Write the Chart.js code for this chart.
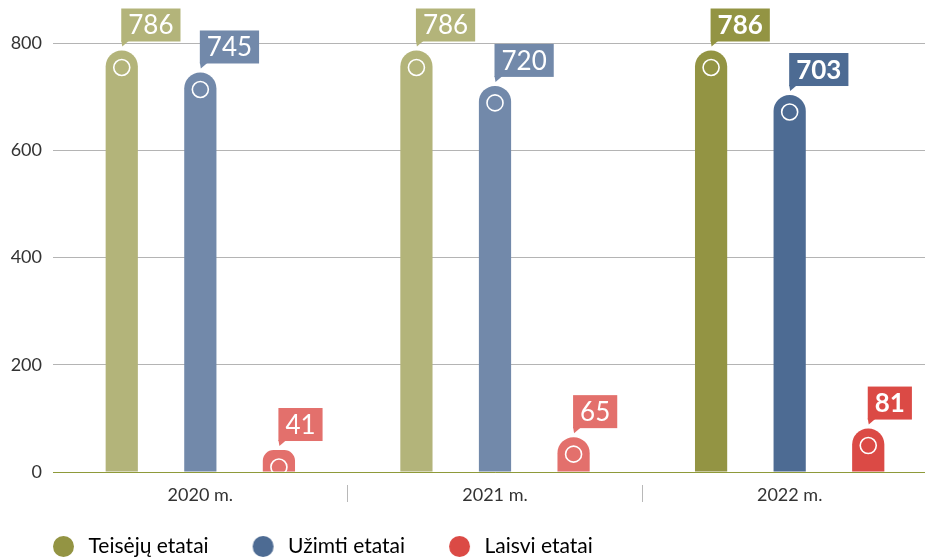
<!DOCTYPE html>
<html>
<head>
<meta charset="utf-8">
<script src="https://cdn.jsdelivr.net/npm/chart.js@4/dist/chart.umd.min.js"></script>
<style>
  html, body { margin: 0; padding: 0; overflow: hidden; background: #fff; }
  #wrap { width: 937px; height: 567px; }
</style>
</head>
<body>
<div id="wrap"><canvas id="chart"></canvas></div>
<script>
const categories = ['2020 m.', '2021 m.', '2022 m.'];
const seriesNames = ['Teisėjų etatai', 'Užimti etatai', 'Laisvi etatai'];
const teiseju = [786, 786, 786];
const uzimti = [745, 720, 703];
const laisvi = [41, 65, 81];
const yTicks = [0, 200, 400, 600, 800];

// faded colour for earlier years, full colour for the last one
const fullColors = ['#939443', '#4d6b93', '#db4a45'];
const fadedColors = ['#b3b47a', '#7289aa', '#e3706c'];

const FONT = 'Lato, "Open Sans", sans-serif';

function barColors(i) {
    return categories.map((c, j) => j === categories.length - 1 ? fullColors[i] : fadedColors[i]);
}

// legend dot, drawn right of the box centre so the text sits close to it
function dot(color) {
    const c = document.createElement('canvas');
    c.width = 51;
    c.height = 21;
    const g = c.getContext('2d');
    g.fillStyle = color;
    g.beginPath();
    g.arc(36.5, 10.5, 10.5, 0, Math.PI * 2);
    g.fill();
    return c;
}

const callouts = {
    id: 'callouts',
    afterDatasetsDraw(chart) {
        const ctx = chart.ctx;
        const area = chart.chartArea;
        chart.data.datasets.forEach((ds, i) => {
            const meta = chart.getDatasetMeta(i);
            meta.data.forEach((bar, j) => {
                const last = j === categories.length - 1;
                const color = last ? fullColors[i] : fadedColors[i];

                // white ring inside the rounded top
                ctx.save();
                ctx.beginPath();
                ctx.rect(area.left, area.top - 20, area.right - area.left, area.bottom - area.top + 20);
                ctx.clip();
                ctx.beginPath();
                ctx.arc(bar.x, bar.y + 17, 8, 0, Math.PI * 2);
                ctx.strokeStyle = '#fff';
                ctx.lineWidth = 1.6;
                ctx.stroke();
                ctx.restore();

                // label box with pointer
                const text = String(ds.data[j]);
                ctx.save();
                ctx.font = (last ? 'bold ' : 'normal ') + '26px ' + FONT;
                const w = ctx.measureText(text).width + 14;
                const h = 33;
                const left = bar.x - 0.5;
                const bottom = bar.y - 9;
                ctx.fillStyle = color;
                ctx.fillRect(left, bottom - h, w, h);
                ctx.beginPath();
                ctx.moveTo(left, bottom - 1);
                ctx.lineTo(left + 8, bottom - 1);
                ctx.lineTo(left + 1, bottom + 5);
                ctx.closePath();
                ctx.fill();
                ctx.fillStyle = '#fff';
                ctx.textAlign = 'center';
                ctx.textBaseline = 'middle';
                ctx.fillText(text, left + w / 2, bottom - h / 2 + 1);
                ctx.restore();
            });
        });
    }
};

const barStyle = {
    borderRadius: { topLeft: 16, topRight: 16, bottomLeft: 0, bottomRight: 0 },
    borderSkipped: 'bottom',
    categoryPercentage: 0.8,
    barPercentage: 0.41
};

new Chart(document.getElementById('chart'), {
    type: 'bar',
    data: {
        labels: categories,
        datasets: [
            { label: seriesNames[0], data: teiseju, backgroundColor: barColors(0), ...barStyle },
            { label: seriesNames[1], data: uzimti, backgroundColor: barColors(1), ...barStyle },
            { label: seriesNames[2], data: laisvi, backgroundColor: barColors(2), ...barStyle }
        ]
    },
    options: {
        responsive: true,
        maintainAspectRatio: false,
        animation: false,
        layout: { padding: { top: 43, left: 9, right: 0, bottom: 0 } },
        scales: {
            y: {
                min: 0,
                max: 800,
                afterBuildTicks: (scale) => { scale.ticks = yTicks.map(v => ({ value: v })); },
                afterFit: (scale) => { scale.width = 44; },
                border: { display: false },
                grid: { color: '#b4b4b4', lineWidth: 1, drawTicks: false },
                ticks: { color: '#333', padding: 11, font: { family: FONT, size: 18 } }
            },
            x: {
                offset: true,
                border: { display: true, color: '#8e9a3a', width: 1 },
                grid: { display: false, drawTicks: false },
                ticks: { color: '#333', padding: 14, font: { family: FONT, size: 18, lineHeight: 1 } }
            },
            // separators between the years, hanging below the axis
            sep: {
                type: 'category',
                axis: 'x',
                position: { y: 0 },
                offset: true,
                border: { display: false },
                grid: {
                    offset: true,
                    drawOnChartArea: false,
                    drawTicks: true,
                    tickLength: 30,
                    tickWidth: 1,
                    tickBorderDash: [0, 13, 17, 60],
                    tickColor: (c) => (c.index > 0 && c.index < categories.length) ? '#b8b8b8' : 'rgba(0,0,0,0)'
                },
                ticks: { display: false }
            }
        },
        plugins: {
            tooltip: { enabled: false },
            legend: {
                position: 'bottom',
                align: 'start',
                labels: {
                    usePointStyle: true,
                    pointStyleWidth: 51,
                    padding: 18,
                    color: '#333',
                    font: { family: FONT, size: 21 },
                    generateLabels: () => seriesNames.map((n, i) => ({
                        text: n,
                        fillStyle: fullColors[i],
                        strokeStyle: fullColors[i],
                        lineWidth: 0,
                        pointStyle: dot(fullColors[i]),
                        datasetIndex: i
                    }))
                }
            }
        }
    },
    plugins: [callouts]
});
</script>
</body>
</html>
